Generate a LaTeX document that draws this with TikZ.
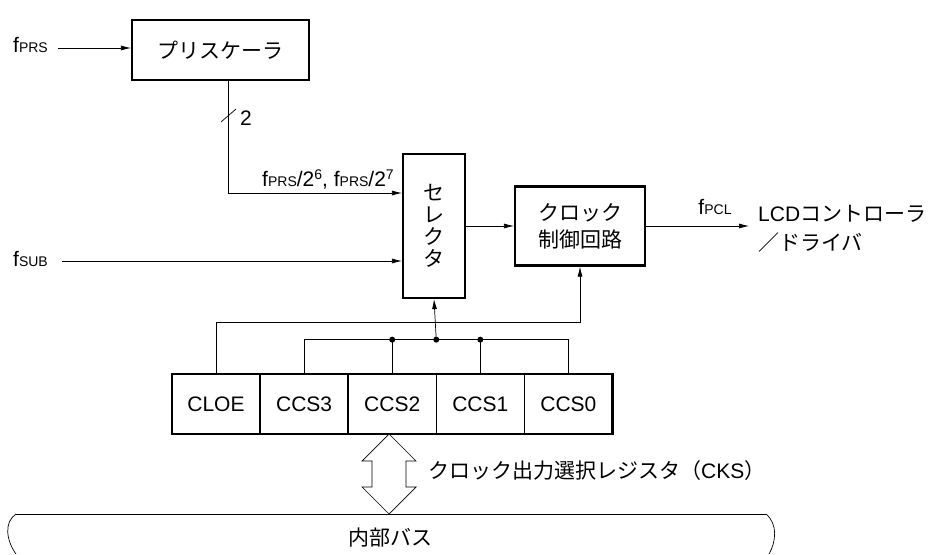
\documentclass[tikz,border=0pt]{standalone}
\usepackage{fontspec}
\setmainfont{Liberation Sans}
\newfontfamily\jpfont{Noto Sans CJK JP}
\usetikzlibrary{arrows.meta,positioning}

\newcommand{\sub}[1]{{\fontsize{14}{14}\selectfont #1}}
\newcommand{\pw}[1]{\raisebox{7pt}{\fontsize{14}{14}\selectfont #1}}

\begin{document}
\begin{tikzpicture}[x=1pt,y=-1pt,
  blk/.style={draw,line width=2.2pt,inner sep=0pt,align=center,font=\jpfont\fontsize{21}{22}\selectfont},
  sig/.style={-{Latex[length=10pt,width=5pt]},line width=0.7pt},
  wire/.style={line width=0.7pt},
  cell/.style={draw,line width=0.7pt,minimum width=87.4pt,minimum height=60pt,inner sep=0pt,font=\fontsize{21}{21}\selectfont},
  lbl/.style={inner sep=0pt,font=\fontsize{21}{24}\selectfont},
  jlbl/.style={inner sep=0pt,font=\jpfont\fontsize{21}{29}\selectfont},
  dot/.style={circle,fill,inner sep=0pt,minimum size=6pt}]
\useasboundingbox (0,0) rectangle (933,554);

% blocks
\node[blk,minimum width=177pt,minimum height=60pt] (psc) at (220.5,50) {プリスケーラ};
\node[blk,minimum width=62pt,minimum height=144pt] (sel) at (434,226) {セ\\レ\\ク\\タ};
\node[blk,minimum width=130pt,minimum height=79pt,font=\jpfont\fontsize{21}{27}\selectfont] (clk) at (580,226) {クロック\\制御回路};

% register
\node[cell] (cloe) at (216,404) {CLOE};
\node[cell,right=0pt of cloe] (ccs3) {CCS3};
\node[cell,right=0pt of ccs3] (ccs2) {CCS2};
\node[cell,right=0pt of ccs2] (ccs1) {CCS1};
\node[cell,right=0pt of ccs1] (ccs0) {CCS0};
\draw[line width=2.2pt] (cloe.north west) rectangle (ccs0.south east);

% inputs
\node[lbl,anchor=base west] (fprs) at (13,52) {f\sub{PRS}};
\node[lbl,anchor=base west] (fsub) at (13,266) {f\sub{SUB}};
\coordinate (inprs) at (58,48);
\coordinate (insub) at (62,261);
\draw[sig] (inprs) -- (inprs -| psc.west);
\draw[sig] (insub) -- (insub -| sel.west);
\draw[sig] ([xshift=7.5pt]psc.south) |- ([yshift=33pt]sel.west);
\draw[wire] (221,122) -- (236,109);
\node[lbl,anchor=west] (nbit) at (240,118) {2};
\node[lbl,anchor=base] (fdiv) at (328,186) {f\sub{PRS}/2\pw{6}, f\sub{PRS}/2\pw{7}};

% output
\draw[sig] (sel.east) -- (sel.east -| clk.west);
\node[jlbl,anchor=west,align=left] (lcd) at (758,229)
  {{\fontspec{Liberation Sans}LCD}コントローラ\\／ドライバ};
\draw[sig] (clk.east) -- ([xshift=-9pt]lcd.west |- clk.east);
\node[lbl,anchor=base] (fpcl) at (715,214) {f\sub{PCL}};

% control lines
\draw[sig] (cloe.north) -- ++(0,-51) -| (clk.south);
\coordinate (jct) at ([yshift=34pt]ccs2.north east);
\draw[wire] (ccs3.north) -- ++(0,-34) -| (ccs0.north);
\draw[wire] (ccs2.north) -- ++(0,-34);
\draw[wire] (ccs1.north) -- ++(0,-34);
\node[dot] at (ccs2.north |- jct) {};
\node[dot] at (ccs1.north |- jct) {};
\node[dot] (jdot) at (jct) {};
\draw[sig] (jct) -- (sel.south);

% bus
\draw[wire,fill=white] (389,434) -- (416,461) -- (406,461) -- (406,487) -- (416,487) -- (389,514)
  -- (362,487) -- (372,487) -- (372,461) -- (362,461) -- cycle;
\node[jlbl,anchor=west] (cks) at (428,471) {クロック出力選択レジスタ（{\fontspec{Liberation Sans}CKS}）};
\draw[wire] (16,514) -- (766,514);
\draw[wire] (16,514) .. controls (4,522) and (6,540) .. (16,554);
\draw[wire] (766,514) .. controls (778,524) and (776,542) .. (769,554);
\node[jlbl] (ibus) at (390,538) {内部バス};
\end{tikzpicture}
\end{document}
